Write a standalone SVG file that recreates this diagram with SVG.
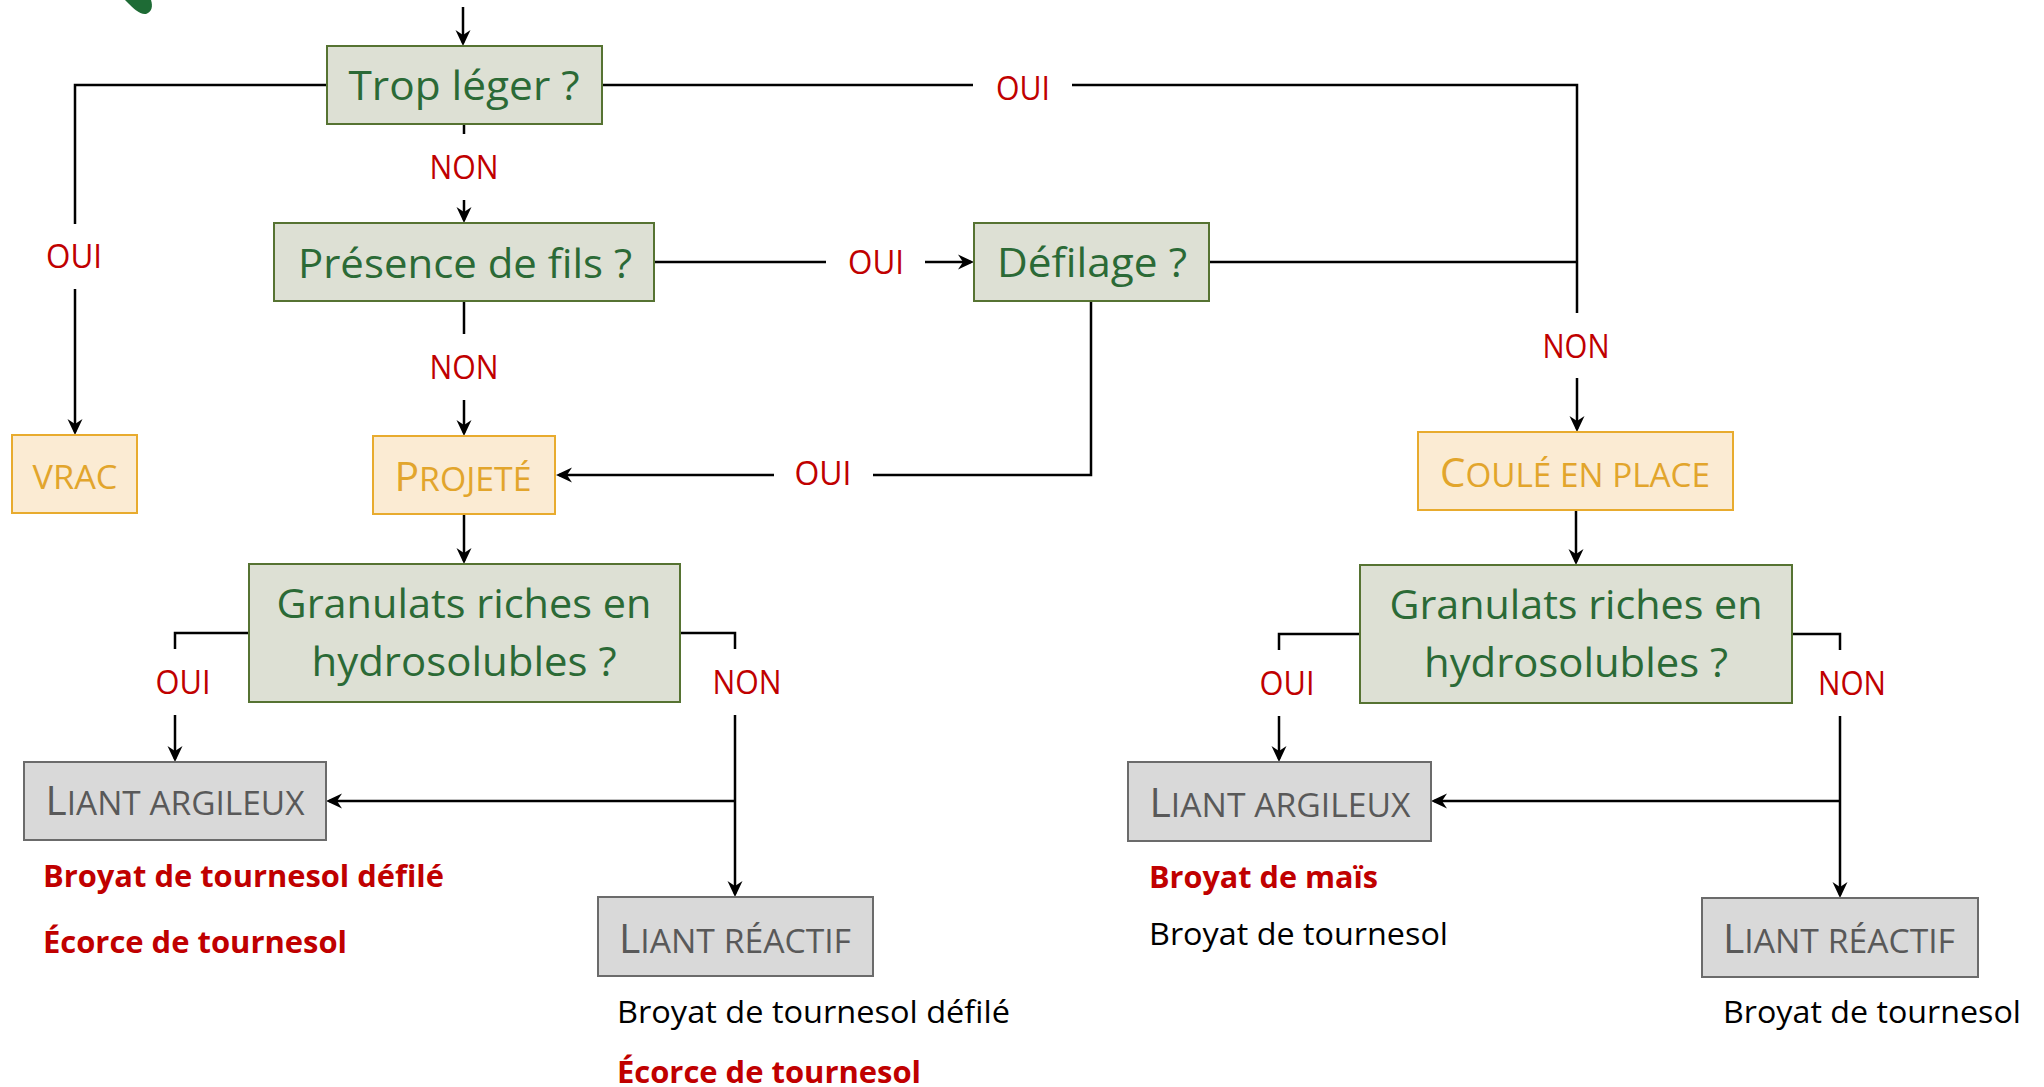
<svg xmlns="http://www.w3.org/2000/svg" width="2044" height="1087" viewBox="0 0 2044 1087">
<defs>
<marker id="arr" markerUnits="userSpaceOnUse" markerWidth="16" markerHeight="16" viewBox="0 0 16 16" refX="13" refY="8" orient="auto">
<path d="M0,0.5 L16,8 L0,15.5 L5,8 Z" fill="#000"/>
</marker>
<style>
.q rect{fill:#dde0d4;stroke:#567332;stroke-width:2}
.q text{fill:#2b6a36;font-family:"Open Sans","Noto Sans",sans-serif;font-size:41px;text-anchor:middle}
.o rect{fill:#fbebd3;stroke:#e8ab2e;stroke-width:2}
.o text{fill:#e2a52c;font-family:"Open Sans","Noto Sans",sans-serif;text-anchor:middle}
.g rect{fill:#d9d9d9;stroke:#6b6b6b;stroke-width:2}
.g text{fill:#595959;font-family:"Open Sans","Noto Sans",sans-serif;text-anchor:middle}
.big{font-size:40px}
.sm{font-size:33px}
.c path{fill:none;stroke:#000;stroke-width:2.5}
.c path.a{marker-end:url(#arr)}
.lbl{fill:#c00000;font-family:"Open Sans","Noto Sans",sans-serif;font-size:32px;text-anchor:middle}
.note{font-family:"Open Sans","Noto Sans",sans-serif;font-size:31px}
.rb{fill:#c00000;font-weight:bold}
.bk{fill:#000}
</style>
</defs>
<rect width="2044" height="1087" fill="#fff"/>
<path d="M125,0 L151,0 C153,6 152,12 146,14 C140,15 134,9 125,0 Z" fill="#1e6b35"/>

<g id="connectors" class="c">
<path class="a" d="M463,7 V43"/>
<path d="M327,85 H75 V224"/>
<path class="a" d="M75,289 V432"/>
<path d="M464,124 V134"/>
<path class="a" d="M464,200 V220"/>
<path d="M602,85 H973"/>
<path d="M1072,85 H1577 V313"/>
<path class="a" d="M1577,378 V429"/>
<path d="M654,262 H826"/>
<path class="a" d="M925,262 H971"/>
<path d="M1209,262 H1577"/>
<path d="M1091,301 V475 H873"/>
<path class="a" d="M774,475 H559"/>
<path d="M464,301 V334"/>
<path class="a" d="M464,400 V433"/>
<path class="a" d="M464,514 V561"/>
<path d="M249,633 H175 V649"/>
<path class="a" d="M175,715 V759"/>
<path d="M680,633 H735 V649"/>
<path class="a" d="M735,715 V894"/>
<path class="a" d="M735,801 H329"/>
<path class="a" d="M1576,510 V562"/>
<path d="M1360,634 H1279 V650"/>
<path class="a" d="M1279,716 V759"/>
<path d="M1792,634 H1840 V650"/>
<path class="a" d="M1840,716 V895"/>
<path class="a" d="M1840,801 H1434"/>
</g>

<g id="labels">
<text class="lbl" x="464" y="179" textLength="69" lengthAdjust="spacingAndGlyphs">NON</text>
<text class="lbl" x="74" y="268" textLength="56" lengthAdjust="spacingAndGlyphs">OUI</text>
<text class="lbl" x="1023" y="100" textLength="54" lengthAdjust="spacingAndGlyphs">OUI</text>
<text class="lbl" x="876" y="274" textLength="56" lengthAdjust="spacingAndGlyphs">OUI</text>
<text class="lbl" x="1576" y="358" textLength="67" lengthAdjust="spacingAndGlyphs">NON</text>
<text class="lbl" x="464" y="379" textLength="69" lengthAdjust="spacingAndGlyphs">NON</text>
<text class="lbl" x="823" y="485" textLength="57" lengthAdjust="spacingAndGlyphs">OUI</text>
<text class="lbl" x="183" y="694" textLength="55" lengthAdjust="spacingAndGlyphs">OUI</text>
<text class="lbl" x="747" y="694" textLength="69" lengthAdjust="spacingAndGlyphs">NON</text>
<text class="lbl" x="1287" y="695" textLength="55" lengthAdjust="spacingAndGlyphs">OUI</text>
<text class="lbl" x="1852" y="695" textLength="68" lengthAdjust="spacingAndGlyphs">NON</text>
</g>

<g id="trop-leger" class="q">
<rect x="327" y="46" width="275" height="78"/>
<text x="464" y="100" textLength="231" lengthAdjust="spacingAndGlyphs">Trop léger ?</text>
</g>
<g id="presence-fils" class="q">
<rect x="274" y="223" width="380" height="78"/>
<text x="465" y="278" textLength="334" lengthAdjust="spacingAndGlyphs">Présence de fils ?</text>
</g>
<g id="defilage" class="q">
<rect x="974" y="223" width="235" height="78"/>
<text x="1092" y="277" textLength="190" lengthAdjust="spacingAndGlyphs">Défilage ?</text>
</g>
<g id="vrac" class="o">
<rect x="12" y="435" width="125" height="78"/>
<text x="75" y="489" class="sm" textLength="85" lengthAdjust="spacingAndGlyphs">VRAC</text>
</g>
<g id="projete" class="o">
<rect x="373" y="436" width="182" height="78"/>
<text x="463" y="491" textLength="137" lengthAdjust="spacingAndGlyphs"><tspan class="big">P</tspan><tspan class="sm">ROJETÉ</tspan></text>
</g>
<g id="coule-en-place" class="o">
<rect x="1418" y="432" width="315" height="78"/>
<text x="1575" y="487" textLength="270" lengthAdjust="spacingAndGlyphs"><tspan class="big">C</tspan><tspan class="sm">OULÉ EN PLACE</tspan></text>
</g>
<g id="granulats-1" class="q">
<rect x="249" y="564" width="431" height="138"/>
<text x="464" y="618" textLength="375" lengthAdjust="spacingAndGlyphs">Granulats riches en</text>
<text x="464" y="676" textLength="305" lengthAdjust="spacingAndGlyphs">hydrosolubles ?</text>
</g>
<g id="granulats-2" class="q">
<rect x="1360" y="565" width="432" height="138"/>
<text x="1576" y="619" textLength="373" lengthAdjust="spacingAndGlyphs">Granulats riches en</text>
<text x="1576" y="677" textLength="304" lengthAdjust="spacingAndGlyphs">hydrosolubles ?</text>
</g>
<g id="liant-argileux-1" class="g">
<rect x="24" y="762" width="302" height="78"/>
<text x="175" y="815" textLength="259" lengthAdjust="spacingAndGlyphs"><tspan class="big">L</tspan><tspan class="sm">IANT ARGILEUX</tspan></text>
</g>
<g id="liant-reactif-1" class="g">
<rect x="598" y="897" width="275" height="79"/>
<text x="735" y="953" textLength="232" lengthAdjust="spacingAndGlyphs"><tspan class="big">L</tspan><tspan class="sm">IANT RÉACTIF</tspan></text>
</g>
<g id="liant-argileux-2" class="g">
<rect x="1128" y="762" width="303" height="79"/>
<text x="1280" y="817" textLength="261" lengthAdjust="spacingAndGlyphs"><tspan class="big">L</tspan><tspan class="sm">IANT ARGILEUX</tspan></text>
</g>
<g id="liant-reactif-2" class="g">
<rect x="1702" y="898" width="276" height="79"/>
<text x="1839" y="953" textLength="232" lengthAdjust="spacingAndGlyphs"><tspan class="big">L</tspan><tspan class="sm">IANT RÉACTIF</tspan></text>
</g>

<g id="notes-argileux-1" class="note">
<text class="rb" x="43" y="887" textLength="401" lengthAdjust="spacingAndGlyphs">Broyat de tournesol défilé</text>
<text class="rb" x="43" y="953" textLength="304" lengthAdjust="spacingAndGlyphs">Écorce de tournesol</text>
</g>
<g id="notes-reactif-1" class="note">
<text class="bk" x="617" y="1023" textLength="393" lengthAdjust="spacingAndGlyphs">Broyat de tournesol défilé</text>
<text class="rb" x="617" y="1083" textLength="304" lengthAdjust="spacingAndGlyphs">Écorce de tournesol</text>
</g>
<g id="notes-argileux-2" class="note">
<text class="rb" x="1149" y="888" textLength="229" lengthAdjust="spacingAndGlyphs">Broyat de maïs</text>
<text class="bk" x="1149" y="945" textLength="299" lengthAdjust="spacingAndGlyphs">Broyat de tournesol</text>
</g>
<g id="notes-reactif-2" class="note">
<text class="bk" x="1723" y="1023" textLength="298" lengthAdjust="spacingAndGlyphs">Broyat de tournesol</text>
</g>
</svg>
